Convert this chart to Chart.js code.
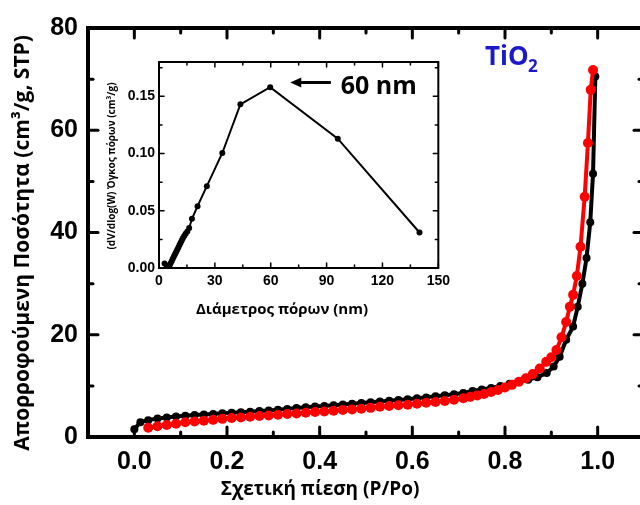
<!DOCTYPE html>
<html>
<head>
<meta charset="utf-8">
<script src="https://cdn.jsdelivr.net/npm/chart.js@4.4.1/dist/chart.umd.min.js"></script>
<style>
  html, body { margin: 0; padding: 0; background: #fff; overflow: hidden; }
  #wrap { position: relative; width: 640px; height: 505px; overflow: hidden; }
  #mainChart { position: absolute; left: 0; top: 0; }
  #insetChart { position: absolute; left: 95px; top: 45px; }
</style>
</head>
<body>
<div id="wrap">
  <canvas id="mainChart" width="660" height="505"></canvas>
  <canvas id="insetChart" width="360" height="285"></canvas>
</div>
<script>
// adsorption branch (black)
const adsPressure = [0.00, 0.013, 0.03, 0.05, 0.07, 0.09, 0.11, 0.13, 0.15, 0.17, 0.19, 0.21, 0.23, 0.25, 0.27, 0.29, 0.31, 0.33, 0.35, 0.37, 0.39, 0.41, 0.43, 0.45, 0.47, 0.49, 0.51, 0.53, 0.55, 0.57, 0.59, 0.61, 0.63, 0.65, 0.67, 0.69, 0.71, 0.73, 0.75, 0.77, 0.79, 0.81, 0.83, 0.85, 0.87, 0.89, 0.905, 0.918, 0.932, 0.947, 0.957, 0.967, 0.976, 0.984, 0.99, 0.995];
const adsVolume = [1.5, 2.9, 3.3, 3.6, 3.8, 4.0, 4.15, 4.3, 4.4, 4.5, 4.65, 4.75, 4.85, 4.95, 5.1, 5.2, 5.35, 5.5, 5.65, 5.8, 5.95, 6.05, 6.2, 6.35, 6.5, 6.65, 6.8, 6.95, 7.1, 7.25, 7.4, 7.6, 7.75, 7.95, 8.15, 8.35, 8.6, 9.0, 9.3, 9.6, 10.0, 10.4, 10.8, 11.2, 11.7, 12.5, 13.8, 15.7, 19.0, 21.6, 25.5, 30.0, 35.0, 42.0, 51.5, 70.5];

// desorption branch (red)
const desPressure = [0.99, 0.985, 0.979, 0.972, 0.963, 0.955, 0.947, 0.94, 0.932, 0.922, 0.911, 0.90, 0.889, 0.875, 0.86, 0.845, 0.83, 0.815, 0.80, 0.785, 0.77, 0.755, 0.74, 0.725, 0.71, 0.69, 0.67, 0.65, 0.63, 0.61, 0.59, 0.57, 0.55, 0.53, 0.51, 0.49, 0.47, 0.45, 0.43, 0.41, 0.39, 0.37, 0.35, 0.33, 0.31, 0.29, 0.27, 0.25, 0.23, 0.21, 0.19, 0.17, 0.15, 0.13, 0.11, 0.09, 0.07, 0.05, 0.03];
const desVolume = [71.8, 67.9, 57.5, 47.0, 37.2, 31.5, 27.8, 25.5, 22.5, 19.5, 17.0, 15.6, 14.7, 13.4, 12.3, 11.5, 10.8, 10.2, 9.7, 9.2, 8.8, 8.4, 8.1, 7.85, 7.6, 7.3, 7.05, 6.85, 6.7, 6.5, 6.3, 6.2, 6.05, 5.9, 5.7, 5.55, 5.4, 5.3, 5.15, 5.0, 4.9, 4.75, 4.6, 4.5, 4.35, 4.2, 4.1, 3.95, 3.8, 3.7, 3.55, 3.35, 3.2, 3.05, 2.9, 2.6, 2.35, 2.1, 1.8];

// inset: pore size distribution
const poreDiameter = [3.0, 4.2, 5.0, 5.6, 6.2, 6.8, 7.4, 8.0, 8.6, 9.2, 9.8, 10.4, 11.0, 11.6, 12.2, 12.8, 13.5, 14.3, 15.2, 16.2, 17.7, 20.7, 25.7, 34.0, 43.7, 59.7, 96.0, 139.9];
const poreVolume = [0.004, 0.002, 0.001, 0.002, 0.004, 0.006, 0.008, 0.010, 0.012, 0.014, 0.016, 0.018, 0.020, 0.022, 0.024, 0.026, 0.028, 0.030, 0.032, 0.035, 0.043, 0.054, 0.0715, 0.1005, 0.143, 0.158, 0.113, 0.031];

// tick positions
const mainXMajor = [0, 0.2, 0.4, 0.6, 0.8, 1.0];
const mainXMinor = [0.1, 0.3, 0.5, 0.7, 0.9];
const mainYMajor = [0, 20, 40, 60, 80];
const mainYMinor = [10, 30, 50, 70];
const insetXMajor = [0, 30, 60, 90, 120, 150];
const insetXMinor = [15, 45, 75, 105, 135];
const insetYMajor = [0, 0.05, 0.10, 0.15];
const insetYMinor = [0.025, 0.075, 0.125, 0.175];

const toPoints = (xs, ys) => xs.map((v, i) => ({x: v, y: ys[i]}));
const fixTicks = vals => s => { s.ticks = vals.map(v => ({value: v})); };

// frame, inward ticks and free text
const frameTicks = {
  id: 'frameTicks',
  beforeDatasetsDraw(chart, args, o) {
    const {ctx, chartArea: a, scales: {x, y}} = chart;
    ctx.save();
    ctx.strokeStyle = '#000';
    ctx.lineCap = 'round';
    ctx.lineWidth = o.tickWidth;
    const line = (x1, y1, x2, y2) => { ctx.beginPath(); ctx.moveTo(x1, y1); ctx.lineTo(x2, y2); ctx.stroke(); };
    const xt = (vals, len) => vals.forEach(v => {
      const p = x.getPixelForValue(v);
      line(p, a.bottom, p, a.bottom - len);
      line(p, a.top, p, a.top + len);
    });
    const yt = (vals, len) => vals.forEach(v => {
      const p = y.getPixelForValue(v);
      line(a.left, p, a.left + len, p);
      line(a.right, p, a.right - len, p);
    });
    xt(o.xMajor, o.major); xt(o.xMinor, o.minor);
    yt(o.yMajor, o.major); yt(o.yMinor, o.minor);
    ctx.lineCap = 'square';
    ctx.lineWidth = o.frameWidth;
    ctx.strokeRect(a.left, a.top, a.right - a.left, a.bottom - a.top);
    ctx.restore();
  },
  afterDraw(chart, args, o) {
    const ctx = chart.ctx;
    ctx.save();
    (o.texts || []).forEach(t => {
      ctx.save();
      ctx.translate(t.x, t.y);
      if (t.rotate) ctx.rotate(t.rotate);
      ctx.font = t.font;
      ctx.fillStyle = t.color || '#000';
      ctx.textAlign = t.align || 'center';
      ctx.textBaseline = 'middle';
      ctx.fillText(t.text, 0, 0);
      ctx.restore();
    });
    ctx.restore();
  }
};

// main isotherm
new Chart(document.getElementById('mainChart').getContext('2d'), {
  type: 'scatter',
  data: {
    datasets: [{
      label: 'desorption',
      data: toPoints(desPressure, desVolume),
      showLine: true,
      borderColor: '#ff0000',
      backgroundColor: '#ff0000',
      borderWidth: 4,
      pointRadius: 5,
      pointBorderWidth: 0,
      order: 0
    }, {
      label: 'adsorption',
      data: toPoints(adsPressure, adsVolume),
      showLine: true,
      borderColor: '#000000',
      backgroundColor: '#000000',
      borderWidth: 4,
      pointRadius: 4,
      pointBorderWidth: 0,
      order: 1
    }]
  },
  options: {
    responsive: false,
    animation: false,
    layout: { padding: { left: 0, top: 28, right: 16, bottom: 0 } },
    plugins: {
      legend: { display: false },
      tooltip: { enabled: false },
      frameTicks: {
        xMajor: mainXMajor, xMinor: mainXMinor, yMajor: mainYMajor, yMinor: mainYMinor,
        major: 10, minor: 5, tickWidth: 3, frameWidth: 4,
        texts: [
          { text: 'Απορροφούμενη Ποσότητα (cm³/g, STP)', x: 23, y: 243, rotate: -Math.PI / 2, font: 'bold 21px "Open Sans"' },
          { text: 'Σχετική πίεση (P/Po)', x: 320, y: 490, font: 'bold 19px "Open Sans"' },
          { text: 'TiO', x: 485, y: 58, align: 'left', font: 'bold 26px "Open Sans"', color: '#1a1ac8' },
          { text: '2', x: 528, y: 67, align: 'left', font: 'bold 17px "Open Sans"', color: '#1a1ac8' }
        ]
      }
    },
    scales: {
      x: {
        type: 'linear',
        min: -0.1,
        max: 1.1,
        grid: { display: false, drawTicks: false },
        border: { display: false },
        afterFit: s => { s.height = 68; },
        afterBuildTicks: fixTicks(mainXMajor),
        ticks: {
          padding: 10,
          color: '#000',
          font: { family: '"Liberation Sans"', size: 25, weight: 'bold' },
          callback: v => v.toFixed(1)
        }
      },
      y: {
        min: 0,
        max: 80,
        grid: { display: false, drawTicks: false },
        border: { display: false },
        afterFit: s => { s.width = 88; },
        afterBuildTicks: fixTicks(mainYMajor),
        ticks: {
          padding: 10,
          color: '#000',
          font: { family: '"Liberation Sans"', size: 25, weight: 'bold' }
        }
      }
    }
  },
  plugins: [frameTicks]
});

// inset: pore size distribution, with 60 nm arrow
const arrowNote = {
  id: 'arrowNote',
  afterDatasetsDraw(chart) {
    const {ctx, scales: {x, y}} = chart;
    const tipX = x.getPixelForValue(70.5), tailX = x.getPixelForValue(92.3), py = y.getPixelForValue(0.162);
    ctx.save();
    ctx.strokeStyle = '#000';
    ctx.fillStyle = '#000';
    ctx.lineWidth = 3;
    ctx.beginPath(); ctx.moveTo(tailX, py); ctx.lineTo(tipX + 8, py); ctx.stroke();
    ctx.beginPath(); ctx.moveTo(tipX, py); ctx.lineTo(tipX + 11, py - 5); ctx.lineTo(tipX + 11, py + 5); ctx.closePath(); ctx.fill();
    ctx.font = 'bold 25px "Open Sans"';
    ctx.textBaseline = 'middle';
    ctx.fillText('60 nm', x.getPixelForValue(97.6), y.getPixelForValue(0.158));
    ctx.restore();
  }
};

new Chart(document.getElementById('insetChart').getContext('2d'), {
  type: 'scatter',
  data: {
    datasets: [{
      label: 'pore volume',
      data: toPoints(poreDiameter, poreVolume),
      showLine: true,
      borderColor: '#000',
      backgroundColor: '#000',
      borderWidth: 2,
      pointRadius: 3,
      pointBorderWidth: 0
    }]
  },
  options: {
    responsive: false,
    animation: false,
    layout: { padding: { left: 0, top: 17, right: 13, bottom: 0 } },
    plugins: {
      legend: { display: false },
      tooltip: { enabled: false },
      frameTicks: {
        xMajor: insetXMajor, xMinor: insetXMinor, yMajor: insetYMajor, yMinor: insetYMinor,
        major: 5, minor: 3, tickWidth: 1.5, frameWidth: 2,
        texts: [
          { text: '(dV/dlog(W) Όγκος πόρων (cm³/g)', x: 17, y: 121, rotate: -Math.PI / 2, font: 'bold 10px "Open Sans"' },
          { text: 'Διάμετρος πόρων (nm)', x: 187, y: 265, font: 'bold 15px "Open Sans"' }
        ]
      }
    },
    scales: {
      x: {
        type: 'linear',
        min: 0,
        max: 150,
        grid: { display: false, drawTicks: false },
        border: { display: false },
        afterFit: s => { s.height = 62; },
        afterBuildTicks: fixTicks(insetXMajor),
        ticks: {
          padding: 5,
          color: '#000',
          font: { family: '"Liberation Sans"', size: 14, weight: 'bold' }
        }
      },
      y: {
        min: 0,
        max: 0.18,
        grid: { display: false, drawTicks: false },
        border: { display: false },
        afterFit: s => { s.width = 64; },
        afterBuildTicks: fixTicks(insetYMajor),
        ticks: {
          padding: 4,
          color: '#000',
          font: { family: '"Liberation Sans"', size: 14, weight: 'bold' },
          callback: v => v.toFixed(2)
        }
      }
    }
  },
  plugins: [frameTicks, arrowNote]
});
</script>
</body>
</html>
